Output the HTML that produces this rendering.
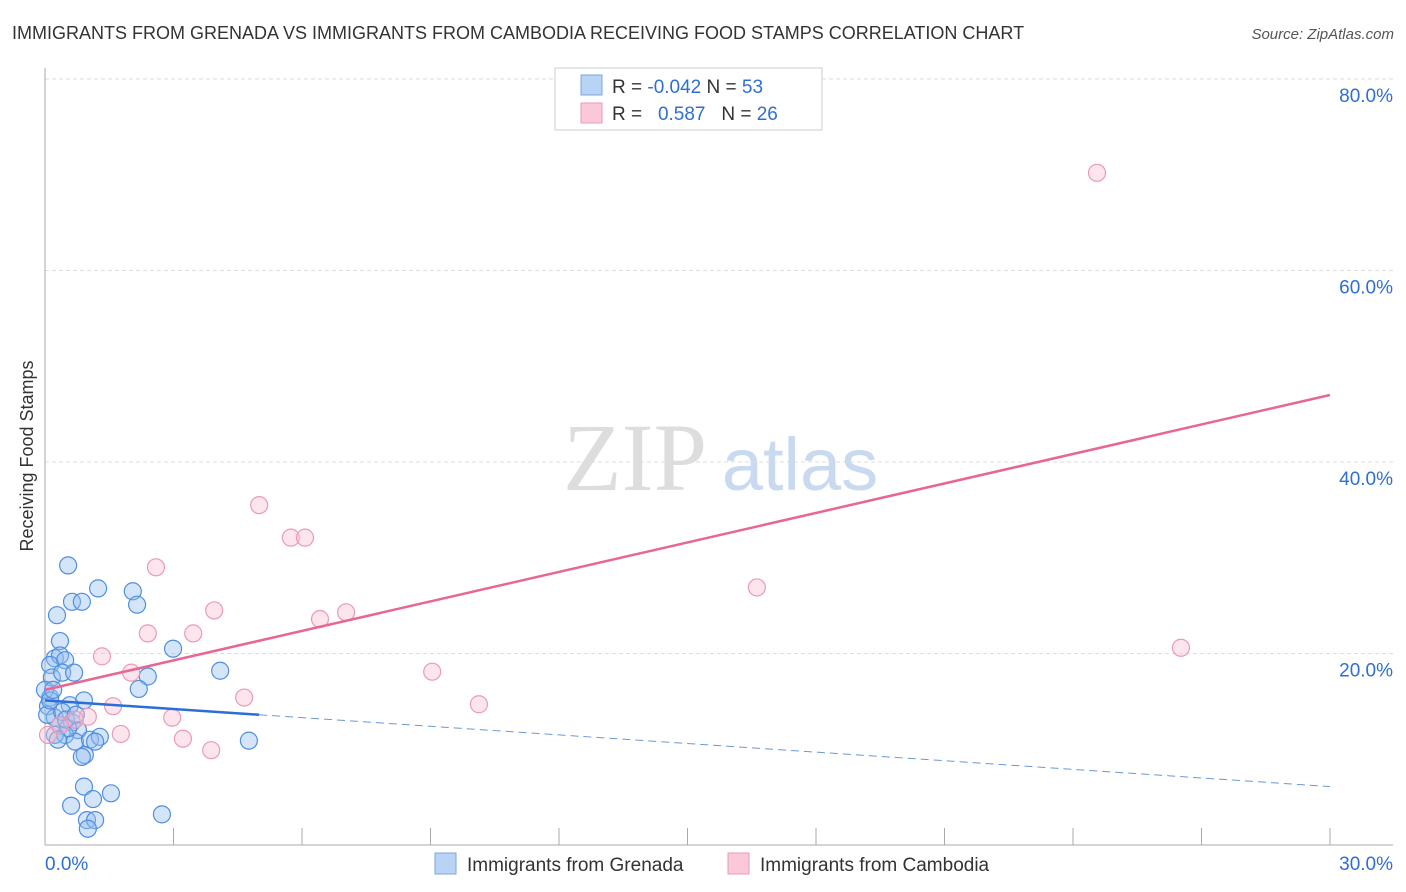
<!DOCTYPE html>
<html><head><meta charset="utf-8"><style>
body{margin:0;background:#fff;font-family:"Liberation Sans",sans-serif;}
#wrap{position:relative;width:1406px;height:892px;overflow:hidden;}
</style></head><body>
<div id="wrap">
<svg id="svg" width="1406" height="892" xmlns="http://www.w3.org/2000/svg">
<text x="12" y="39" font-size="18" fill="#333">IMMIGRANTS FROM GRENADA VS IMMIGRANTS FROM CAMBODIA RECEIVING FOOD STAMPS CORRELATION CHART</text>
<text x="1394" y="39" font-size="15" fill="#555" font-style="italic" text-anchor="end">Source: ZipAtlas.com</text>
<text x="33" y="456" font-size="18" fill="#333" text-anchor="middle" transform="rotate(-90 33 456)">Receiving Food Stamps</text>
<g><text x="635" y="490" font-size="96" font-family="Liberation Serif,serif" fill="#ddd" text-anchor="middle">ZIP</text><text x="800" y="490" font-size="74" fill="#c8d9f0" text-anchor="middle">atlas</text></g>
<g id="grid"></g><g id="axes"></g><g id="pts"></g><g id="lines"></g>
<g>
<rect x="555" y="68" width="267" height="62" fill="#fff" stroke="#ccc"/>
<rect x="581" y="75" width="21" height="20" fill="#b9d3f4" stroke="#7aa7e0"/>
<rect x="581" y="103" width="21" height="20" fill="#fac8d8" stroke="#ec9ab4"/>
<text x="612" y="93" font-size="19" fill="#333">R = <tspan fill="#2f6fd0">-0.042</tspan>   N = <tspan fill="#2f6fd0">53</tspan></text>
<text x="612" y="120" font-size="19" fill="#333" xml:space="preserve">R =   <tspan fill="#2f6fd0">0.587</tspan>   N = <tspan fill="#2f6fd0">26</tspan></text>
</g>
<g>
<rect x="435" y="853" width="21" height="21" fill="#b9d3f4" stroke="#7aa7e0"/>
<text x="467" y="871" font-size="19" fill="#333">Immigrants from Grenada</text>
<rect x="728" y="853" width="21" height="21" fill="#fac8d8" stroke="#ec9ab4"/>
<text x="760" y="871" font-size="19" fill="#333">Immigrants from Cambodia</text>
</g>
</svg></div>
<script>
const xTicks=[0,3,6,9,12,15,18,21,24,27,30];
const yTicks=[20,40,60,80];
const yTickLabels=["20.0%","40.0%","60.0%","80.0%"];
const xEndLabels=["0.0%","30.0%"];
const grenadaX=[0.54,0.28,0.63,0.86,1.24,2.05,2.15,0.35,0.23,0.35,0.47,0.12,0.16,0.40,0.68,2.99,2.40,2.19,4.09,0.91,0.12,0.07,0.58,0.23,0.35,0.63,0.77,0.47,0.70,1.05,1.28,0.23,0.93,0.86,4.76,0.91,1.54,0.61,1.12,0.98,1.17,1.00,2.73,0.0,0.05,0.40,0.54,1.17,0.12,0.30,0.49,0.72,0.19];
const grenadaY=[29.2,24.0,25.4,25.4,26.8,26.5,25.1,21.3,19.5,19.8,19.3,18.8,17.5,18.0,18.0,20.5,17.6,16.3,18.2,15.1,15.4,14.5,14.6,13.3,12.5,12.8,12.0,11.5,10.8,11.0,11.3,11.5,9.4,9.2,10.9,6.1,5.4,4.1,4.8,2.6,2.6,1.7,3.2,16.2,13.6,13.9,12.2,10.8,15.1,11.0,13.1,13.6,16.2];
const cambodiaX=[24.56,5.0,5.74,6.07,2.59,3.95,7.03,6.42,2.40,3.46,16.62,26.52,1.33,2.01,9.04,4.65,10.13,2.97,1.59,1.0,1.77,3.22,3.88,0.07,0.70,0.35];
const cambodiaY=[70.2,35.5,32.1,32.1,29.0,24.5,24.3,23.6,22.1,22.1,26.9,20.6,19.7,18.0,18.1,15.4,14.7,13.3,14.5,13.4,11.6,11.1,9.9,11.5,13.1,12.5];
const grenadaTrend=[15.1,6.1];
const grenadaSolidEnd=5.0;
const cambodiaTrend=[16.2,47.0];
const NS="http://www.w3.org/2000/svg";
const X=v=>45+v*(1285/30);
const Y=v=>845-v*9.575;
function mk(tag,attrs,parent){const e=document.createElementNS(NS,tag);for(const k in attrs)e.setAttribute(k,attrs[k]);document.getElementById(parent).appendChild(e);return e;}
yTicks.forEach((t,i)=>{
 const l=mk('line',{x1:45,x2:1393,y1:Y(t),y2:Y(t),stroke:'#ddd','stroke-dasharray':'4,3'},'grid');
 
 
 const tx=mk('text',{x:1393,y:Y(t)+23,'font-size':19,fill:'#2f6fd0','text-anchor':'end'},'grid');
 tx.textContent=yTickLabels[i];
 
 
});
const ax=mk('line',{x1:45,x2:45,y1:68,y2:845,stroke:'#aaa'},'axes');


const bx=mk('line',{x1:45,x2:1393,y1:845,y2:845,stroke:'#aaa'},'axes');


xTicks.forEach(t=>{
 const l=mk('line',{x1:X(t),x2:X(t),y1:828,y2:845,stroke:'#aaa'},'axes');
 
 
});
[[xTicks[0],'start',45],[xTicks[xTicks.length-1],'end',1393]].forEach((a,i)=>{
 const tx=mk('text',{x:i?a[2]:X(a[0]),y:870,'font-size':19,fill:'#2f6fd0','text-anchor':a[1]},'axes');
 tx.textContent=xEndLabels[i];
 
 
});
grenadaX.forEach((v,i)=>{
 const c=mk('circle',{cx:X(v),cy:Y(grenadaY[i]),r:8.5,fill:'rgba(150,190,240,0.4)',stroke:'#4f8ee0','stroke-width':1.2},'pts');
 
 
});
cambodiaX.forEach((v,i)=>{
 const c=mk('circle',{cx:X(v),cy:Y(cambodiaY[i]),r:8.5,fill:'rgba(248,190,208,0.4)',stroke:'#ec9ab4','stroke-width':1.2},'pts');
 
 
});
const gy=x=>grenadaTrend[0]+(grenadaTrend[1]-grenadaTrend[0])*x/30;
const l1=mk('line',{x1:X(0),y1:Y(gy(0)),x2:X(grenadaSolidEnd),y2:Y(gy(grenadaSolidEnd)),stroke:'#2a6fd6','stroke-width':2.5},'lines');


const l2=mk('line',{x1:X(grenadaSolidEnd),y1:Y(gy(grenadaSolidEnd)),x2:X(30),y2:Y(gy(30)),stroke:'#6a98d8','stroke-width':1,'stroke-dasharray':'8,5'},'lines');


const l3=mk('line',{x1:X(0),y1:Y(cambodiaTrend[0]),x2:X(30),y2:Y(cambodiaTrend[1]),stroke:'#e8668f','stroke-width':2.5},'lines');


</script>
</body></html>
